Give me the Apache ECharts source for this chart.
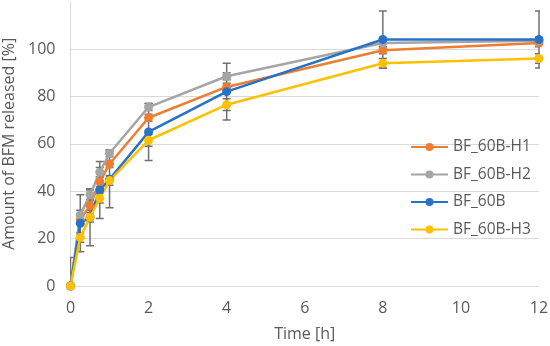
<!DOCTYPE html>
<html>
<head>
<meta charset="utf-8">
<script src="https://cdn.jsdelivr.net/npm/echarts@6/dist/echarts.min.js"></script>
<style>html,body{margin:0;padding:0;background:#fff}#c{width:550px;height:346px}</style>
</head>
<body>
<div id="c"></div>
<script>
const times = [0, 0.25, 0.5, 0.75, 1, 2, 4, 8, 12];
const seriesNames = ['BF_60B-H1', 'BF_60B-H2', 'BF_60B', 'BF_60B-H3'];
const valsH1 = [0, 28, 34, 44, 51.5, 71, 84, 99.5, 102.5];
const valsH2 = [0, 30, 38.5, 48, 56, 75.5, 88.5, 102.5, 103.5];
const valsB  = [0, 26.5, 29, 40.5, 45, 65, 82, 104, 104];
const valsH3 = [0, 20.5, 29, 37, 44.5, 61.5, 76.5, 94, 96];
const errH1 = [0, 2, 2, 2, 1.5, 1.5, 1.5, 1.5, 1.5];
const errH2 = [0, 2, 2, 2, 1.5, 1.5, 1.5, 1.5, 1.5];
const errB  = [12, 12, 12, 12, 12, 12, 12, 12, 12];
const errH3 = [0, 2, 2, 2, 2, 2.5, 2.5, 2, 2];
const xTicks = [0, 2, 4, 6, 8, 10, 12];
const yTicks = [0, 20, 40, 60, 80, 100];

const colors = ['#ED7D31', '#A5A5A5', '#2672C6', '#FFC000'];
const allVals = [valsH1, valsH2, valsB, valsH3];
const allErr = [errH1, errH2, errB, errH3];
const font = 'Open Sans';
const txt = '#595959';

const series = [];
allVals.forEach((vals, i) => {
  series.push({
    type: 'custom',
    name: seriesNames[i] + ' err',
    clip: true,
    z: 1,
    data: times.map((t, j) => [t, vals[j] - allErr[i][j], vals[j] + allErr[i][j]]),
    encode: { x: 0, y: [1, 2] },
    renderItem: function (params, api) {
      const x = api.value(0);
      const lo = api.coord([x, api.value(1)]);
      const hi = api.coord([x, api.value(2)]);
      const w = 4;
      const st = { stroke: '#707070', lineWidth: 1.5 };
      return {
        type: 'group',
        children: [
          { type: 'line', shape: { x1: lo[0], y1: lo[1], x2: hi[0], y2: hi[1] }, style: st },
          { type: 'line', shape: { x1: lo[0] - w, y1: lo[1], x2: lo[0] + w, y2: lo[1] }, style: st },
          { type: 'line', shape: { x1: hi[0] - w, y1: hi[1], x2: hi[0] + w, y2: hi[1] }, style: st }
        ]
      };
    }
  });
});
allVals.forEach((vals, i) => {
  series.push({
    type: 'line',
    name: seriesNames[i],
    z: 3,
    data: times.map((t, j) => [t, vals[j]]),
    symbol: 'circle',
    symbolSize: 9,
    color: colors[i],
    lineStyle: { width: 2.5, color: colors[i] },
    itemStyle: { color: colors[i] }
  });
});

const chart = echarts.init(document.getElementById('c'), null, { renderer: 'canvas' });
chart.setOption({
  animation: false,
  backgroundColor: '#fff',
  grid: { left: 70.5, right: 11, top: 1.6, bottom: 60, outerBoundsMode: 'none', containLabel: false },
  legend: {
    data: seriesNames,
    orient: 'vertical',
    left: 405,
    top: 134,
    itemWidth: 37,
    itemHeight: 10,
    itemGap: 11.5,
    textStyle: { fontFamily: font, fontSize: 15.5, color: txt }
  },
  xAxis: {
    type: 'value',
    min: xTicks[0],
    max: xTicks[xTicks.length - 1],
    interval: 2,
    name: 'Time [h]',
    nameLocation: 'middle',
    nameGap: 40,
    nameTextStyle: { fontFamily: font, fontSize: 16, color: txt },
    axisLine: { show: false },
    axisTick: { show: false },
    splitLine: { show: false },
    axisLabel: { fontFamily: font, fontSize: 16, color: txt, margin: 14 }
  },
  yAxis: {
    type: 'value',
    min: 0,
    max: 120,
    interval: 20,
    name: 'Amount of BFM released [%]',
    nameLocation: 'middle',
    nameGap: 48,
    nameTextStyle: { fontFamily: font, fontSize: 16, color: txt },
    axisLine: { show: true, lineStyle: { color: '#D9D9D9', width: 1 } },
    axisTick: { show: false },
    splitLine: { show: true, showMaxLine: false, lineStyle: { color: '#D9D9D9', width: 1 } },
    axisLabel: {
      fontFamily: font, fontSize: 16, color: txt, margin: 15,
      showMaxLabel: false,
      formatter: v => (yTicks.indexOf(v) >= 0 ? String(v) : '')
    }
  },
  series: series
});
</script>
</body>
</html>
